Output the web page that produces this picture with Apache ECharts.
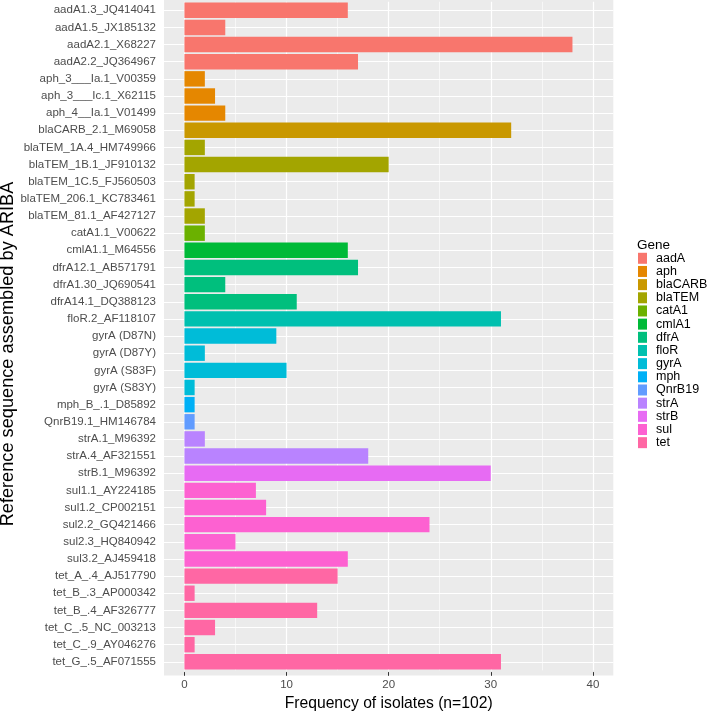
<!DOCTYPE html>
<html>
<head>
<meta charset="utf-8">
<script src="https://cdn.jsdelivr.net/npm/echarts@6/dist/echarts.min.js"></script>
<style>
  html, body { margin: 0; padding: 0; background: #fff; }
  #chart { width: 709px; height: 717px; }
</style>
</head>
<body>
<div id="chart"></div>
<script>
// reference sequences, top to bottom
var categories = [
  'aadA1.3_JQ414041', 'aadA1.5_JX185132', 'aadA2.1_X68227', 'aadA2.2_JQ364967',
  'aph_3___Ia.1_V00359', 'aph_3___Ic.1_X62115', 'aph_4__Ia.1_V01499',
  'blaCARB_2.1_M69058', 'blaTEM_1A.4_HM749966', 'blaTEM_1B.1_JF910132',
  'blaTEM_1C.5_FJ560503', 'blaTEM_206.1_KC783461', 'blaTEM_81.1_AF427127',
  'catA1.1_V00622', 'cmlA1.1_M64556', 'dfrA12.1_AB571791', 'dfrA1.30_JQ690541',
  'dfrA14.1_DQ388123', 'floR.2_AF118107', 'gyrA (D87N)', 'gyrA (D87Y)',
  'gyrA (S83F)', 'gyrA (S83Y)', 'mph_B_.1_D85892', 'QnrB19.1_HM146784',
  'strA.1_M96392', 'strA.4_AF321551', 'strB.1_M96392', 'sul1.1_AY224185',
  'sul1.2_CP002151', 'sul2.2_GQ421466', 'sul2.3_HQ840942', 'sul3.2_AJ459418',
  'tet_A_.4_AJ517790', 'tet_B_.3_AP000342', 'tet_B_.4_AF326777',
  'tet_C_.5_NC_003213', 'tet_C_.9_AY046276', 'tet_G_.5_AF071555'
];
// frequency of isolates
var counts = [
  16, 4, 38, 17,
  2, 3, 4,
  32, 2, 20,
  1, 1, 2,
  2, 16, 17, 4,
  11, 31, 9, 2,
  10, 1, 1, 1,
  2, 18, 30, 7,
  8, 24, 5, 16,
  15, 1, 13,
  3, 1, 31
];
// gene of each sequence
var geneOf = [
  'aadA', 'aadA', 'aadA', 'aadA',
  'aph', 'aph', 'aph',
  'blaCARB', 'blaTEM', 'blaTEM',
  'blaTEM', 'blaTEM', 'blaTEM',
  'catA1', 'cmlA1', 'dfrA', 'dfrA',
  'dfrA', 'floR', 'gyrA', 'gyrA',
  'gyrA', 'gyrA', 'mph', 'QnrB19',
  'strA', 'strA', 'strB', 'sul',
  'sul', 'sul', 'sul', 'sul',
  'tet', 'tet', 'tet',
  'tet', 'tet', 'tet'
];
var genes = ['aadA', 'aph', 'blaCARB', 'blaTEM', 'catA1', 'cmlA1', 'dfrA', 'floR',
  'gyrA', 'mph', 'QnrB19', 'strA', 'strB', 'sul', 'tet'];
var xTicks = [0, 10, 20, 30, 40];

// ggplot hue palette, 15 levels
var palette = ['#F8766D', '#E58700', '#C99800', '#A3A500', '#6BB100', '#00BA38', '#00BF7D',
  '#00C0AF', '#00BCD8', '#00B0F6', '#619CFF', '#B983FF', '#E76BF3', '#FD61D1', '#FF67A4'];

var font = 'Liberation Sans, Arial, Helvetica, sans-serif';
var t = 'rgba(255,255,255,0)';
// colour cycles for grid lines, ticks start at -2 with step 1
var majorColors = [t, t, '#FFFFFF', t, t, t, t, t, t, t];
var minorColors = [t, t, t, t, t, t, t, '#FFFFFF', t, t];

var chart = echarts.init(document.getElementById('chart'), null, { renderer: 'canvas' });

var series = genes.map(function (g, gi) {
  return {
    name: g,
    type: 'bar',
    stack: 'all',
    barCategoryGap: '10%',
    itemStyle: { color: palette[gi] },
    data: counts.map(function (v, i) { return geneOf[i] === g ? v : '-'; })
  };
});

// horizontal grid lines at the category centres
series.push({
  name: 'grid',
  type: 'line',
  data: [],
  silent: true,
  markLine: {
    z: 1,
    silent: true,
    symbol: 'none',
    label: { show: false },
    lineStyle: { color: '#FFFFFF', width: 1.2, type: 'solid' },
    emphasis: { disabled: true },
    data: categories.map(function (c) { return { yAxis: c }; })
  }
});

var hiddenAxis = function (colors, width) {
  return {
    type: 'value',
    min: -2,
    max: 42,
    interval: 1,
    axisLine: { show: false },
    axisTick: { show: false },
    axisLabel: { show: false },
    splitLine: { show: true, lineStyle: { color: colors, width: width } }
  };
};

var option = {
  animation: false,
  textStyle: { fontFamily: font },
  title: {
    text: 'Gene',
    left: 637,
    top: 238.5,
    padding: 0,
    textStyle: { fontSize: 13.5, fontWeight: 'normal', color: '#000', fontFamily: font }
  },
  legend: {
    orient: 'vertical',
    left: 638,
    top: 251.7,
    padding: 0,
    itemGap: 0,
    itemWidth: 9,
    itemHeight: 11,
    icon: 'rect',
    selectedMode: false,
    data: genes,
    textStyle: { fontSize: 12.5, color: '#000', lineHeight: 13.17, fontFamily: font, padding: [0, 0, 0, 4] }
  },
  graphic: [
    {
      type: 'rect',
      z: -10,
      silent: true,
      shape: { x: 164, y: 0, width: 449.3, height: 675.4 },
      style: { fill: '#EBEBEB' }
    },
    {
      type: 'text',
      x: 8,
      y: 354,
      rotation: Math.PI / 2,
      silent: true,
      style: {
        text: 'Reference sequence assembled by ARIBA',
        fontSize: 18.2,
        fontFamily: font,
        fill: '#000',
        align: 'center',
        verticalAlign: 'middle'
      }
    }
  ],
  grid: {
    left: 164,
    right: 95.7,
    top: 1.7,
    bottom: 43.3,
    containLabel: false
  },
  xAxis: [
    {
      type: 'value',
      min: -2,
      max: 42,
      position: 'bottom',
      offset: 1.7,
      name: 'Frequency of isolates (n=102)',
      nameLocation: 'middle',
      nameGap: 23,
      nameTextStyle: { fontSize: 15.7, color: '#000', fontFamily: font },
      axisLine: { show: false },
      axisTick: {
        show: true,
        customValues: xTicks,
        length: 3.7,
        lineStyle: { color: '#333333', width: 1 }
      },
      axisLabel: {
        customValues: xTicks,
        color: '#4D4D4D',
        fontSize: 11.5,
        margin: 7,
        fontFamily: font
      },
      splitLine: { show: false }
    },
    hiddenAxis(majorColors, 1.2),
    hiddenAxis(minorColors, 0.6)
  ],
  yAxis: {
    type: 'category',
    data: categories,
    inverse: true,
    axisLine: { show: false },
    axisTick: {
      show: true,
      alignWithLabel: true,
      interval: 0,
      length: 4,
      lineStyle: { color: '#333333', width: 1 }
    },
    axisLabel: {
      interval: 0,
      color: '#4D4D4D',
      fontSize: 11.5,
      margin: 8,
      fontFamily: font
    },
    splitLine: { show: false }
  },
  series: series
};

chart.setOption(option);
</script>
</body>
</html>
